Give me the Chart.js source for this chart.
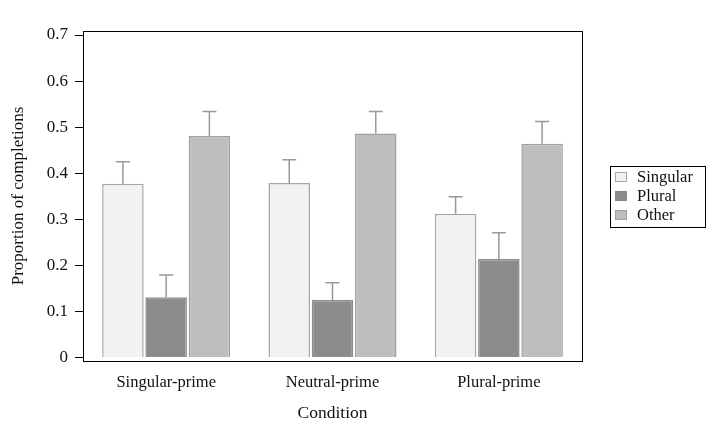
<!DOCTYPE html>
<html>
<head>
<meta charset="utf-8">
<script src="https://cdn.jsdelivr.net/npm/chart.js@4"></script>
<style>
  body { margin: 0; background: #fff; }
  #wrap { width: 715px; height: 428px; }
</style>
</head>
<body>
<div id="wrap"><canvas id="myChart" width="715" height="428"></canvas></div>
<script>
const conditions = ['Singular-prime', 'Neutral-prime', 'Plural-prime'];
const seriesNames = ['Singular', 'Plural', 'Other'];
const singular = [0.377, 0.379, 0.312];
const plural = [0.131, 0.125, 0.214];
const other = [0.481, 0.486, 0.464];
// upper end of each error bar
const singularErr = [0.425, 0.429, 0.349];
const pluralErr = [0.179, 0.162, 0.271];
const otherErr = [0.534, 0.534, 0.512];
const yTicks = [0, 0.1, 0.2, 0.3, 0.4, 0.5, 0.6, 0.7];

const fills = ['#f2f2f2', '#8c8c8c', '#bebebe'];
const edges = ['#a6a6a6', '#8a8a8a', '#a0a0a0'];
const serif = '"Liberation Serif", "DejaVu Serif", serif';

const errorBars = {
    id: 'errorBars',
    afterDatasetsDraw(chart) {
        const ctx = chart.ctx;
        const y = chart.scales.y;
        ctx.save();
        ctx.strokeStyle = '#999999';
        ctx.lineWidth = 1.5;
        chart.data.datasets.forEach((ds, i) => {
            const meta = chart.getDatasetMeta(i);
            meta.data.forEach((bar, j) => {
                const top = y.getPixelForValue(ds.errTop[j]);
                ctx.beginPath();
                ctx.moveTo(bar.x, bar.y);
                ctx.lineTo(bar.x, top);
                ctx.moveTo(bar.x - 7, top);
                ctx.lineTo(bar.x + 7, top);
                ctx.stroke();
            });
        });
        ctx.restore();
    }
};

const frame = {
    id: 'frame',
    afterDraw(chart) {
        const ctx = chart.ctx;
        const a = chart.chartArea;
        ctx.save();
        ctx.strokeStyle = '#000';
        ctx.lineWidth = 1;
        ctx.strokeRect(a.left + 0.5, a.top + 0.5, a.right - a.left, a.bottom - a.top);

        // legend box on the right
        const lx = 610, ly = 166, lw = 95, lh = 61;
        ctx.strokeRect(lx + 0.5, ly + 0.5, lw, lh);
        ctx.font = '16.5px ' + serif;
        ctx.textBaseline = 'middle';
        seriesNames.forEach((name, i) => {
            const ry = ly + 11 + i * 19;
            ctx.fillStyle = fills[i];
            ctx.fillRect(lx + 5, ry - 5, 12, 10);
            ctx.strokeStyle = edges[i];
            ctx.strokeRect(lx + 5.5, ry - 4.5, 11, 9);
            ctx.fillStyle = '#111';
            ctx.fillText(name, lx + 27, ry + 1);
        });
        ctx.restore();
    }
};

function makeSet(i, values, errs) {
    return {
        label: seriesNames[i],
        data: values,
        errTop: errs,
        backgroundColor: fills[i],
        borderColor: edges[i],
        borderWidth: 1.5,
        categoryPercentage: 0.78,
        barPercentage: 0.96
    };
}

const ctx = document.getElementById('myChart').getContext('2d');
const myChart = new Chart(ctx, {
    type: 'bar',
    data: {
        labels: conditions,
        datasets: [
            makeSet(0, singular, singularErr),
            makeSet(1, plural, pluralErr),
            makeSet(2, other, otherErr)
        ]
    },
    options: {
        responsive: false,
        animation: false,
        layout: { padding: { top: 31, right: 133, left: 0, bottom: 0 } },
        plugins: {
            legend: { display: false },
            tooltip: { enabled: false }
        },
        scales: {
            x: {
                grid: { display: false },
                border: { display: false },
                ticks: { color: '#111', font: { family: serif, size: 16.5 }, padding: 4 },
                title: { display: true, text: 'Condition', color: '#111', font: { family: serif, size: 17.5 }, padding: { top: 2 } },
                afterFit(scale) { scale.height = 67; }
            },
            y: {
                min: -0.0076,
                max: 0.7087,
                afterBuildTicks(scale) { scale.ticks = yTicks.map(v => ({ value: v })); },
                grid: { drawOnChartArea: false, drawTicks: true, tickLength: 8, color: '#000' },
                border: { display: false },
                ticks: {
                    color: '#111',
                    font: { family: serif, size: 17 },
                    padding: 7,
                    callback: v => String(Math.round(v * 10) / 10)
                },
                title: { display: true, text: 'Proportion of completions', color: '#111', font: { family: serif, size: 17 }, padding: { top: 8, bottom: 4 } },
                afterFit(scale) { scale.width = 83; }
            }
        }
    },
    plugins: [errorBars, frame]
});
</script>
</body>
</html>
